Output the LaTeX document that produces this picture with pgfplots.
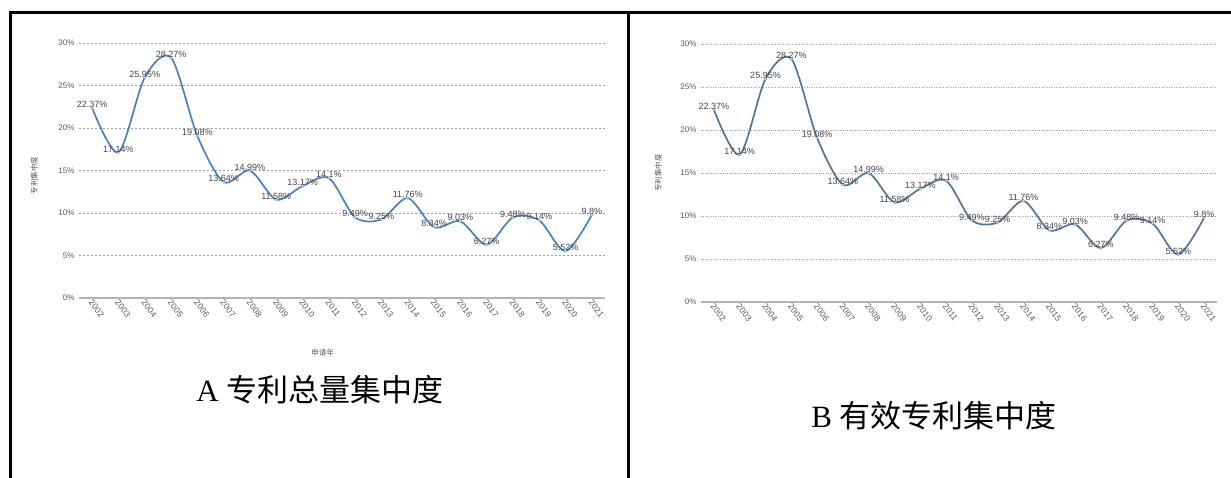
\documentclass[border=0pt]{standalone}
\usepackage{pgfplots}
\pgfplotsset{compat=1.18}
\usepackage{pgfplotstable}
\usepackage{fontspec}
\setmainfont{Liberation Serif}
\newfontfamily\cjk{Noto Sans CJK SC}
\newfontfamily\arial{Liberation Sans}
\definecolor{txtgray}{RGB}{89,89,89}
\definecolor{lblgray}{RGB}{70,70,70}
\definecolor{gridgray}{RGB}{160,160,160}
\definecolor{axgray}{RGB}{180,180,180}
\definecolor{lineA}{RGB}{74,128,190}
\definecolor{lineB}{RGB}{82,116,160}

\pgfplotstableread{
i year val
0 2002 22.37
1 2003 17.14
2 2004 25.95
3 2005 28.27
4 2006 19.08
5 2007 13.64
6 2008 14.99
7 2009 11.58
8 2010 13.17
9 2011 14.1
10 2012 9.49
11 2013 9.25
12 2014 11.76
13 2015 8.34
14 2016 9.03
15 2017 6.27
16 2018 9.48
17 2019 9.14
18 2020 5.52
19 2021 9.8
}\datatable

\pgfplotsset{
  panel/.style={
    scale only axis,
    anchor=south west,
    xmin=-0.5, xmax=19.5,
    ymin=0, ymax=30,
    xtick={0,...,19},
    xticklabels={2002,2003,2004,2005,2006,2007,2008,2009,2010,2011,2012,2013,2014,2015,2016,2017,2018,2019,2020,2021},
    ytick={0,5,...,30},
    yticklabel={\pgfmathprintnumber{\tick}\%},
    /pgf/number format/assume math mode=true,
    major tick length=0pt,
    axis x line*=bottom,
    axis y line*=left,
    y axis line style={draw=none},
    ymajorgrids,
    ticklabel style={font=\arial\fontsize{8}{9}\selectfont, text=txtgray},
    xticklabel style={rotate=-52, anchor=west, xshift=-2pt, yshift=-3pt, font=\arial\fontsize{8.5}{9}\selectfont},
    yticklabel style={xshift=-1pt},
    clip=false,
    nodes near coords={\pgfmathprintnumber[fixed,precision=2]{\pgfplotspointmeta}\%},
    point meta=explicit,
    nodes near coords style={font=\arial\fontsize{9}{10}\selectfont, text=lblgray, anchor=south, inner sep=0pt, yshift=0pt},
  },
}

\begin{document}
\begin{tikzpicture}
\useasboundingbox (0pt,0pt) rectangle (1231pt,-478pt);
\draw[line width=3pt] (9pt,-13pt) -- (1231pt,-13pt);
\draw[line width=3pt] (10.5pt,-11.5pt) -- (10.5pt,-478pt);
\draw[line width=3pt] (628pt,-11.5pt) -- (628pt,-478pt);

% Panel A
\begin{axis}[panel,
  at={(79pt,-298pt)}, width=526pt, height=255pt,
  x axis line style={draw=axgray, line width=1.2pt},
  grid style={draw=gridgray, dashed, dash pattern=on 2pt off 2pt, line width=0.6pt},
  ylabel={\cjk 专利集中度},
  ylabel style={font=\fontsize{7.5}{8}\selectfont, text=txtgray, at={(axis description cs:-0.085,0.48)}, anchor=center},
  xlabel={\cjk 申请年},
  xlabel style={font=\fontsize{7.5}{8}\selectfont, text=txtgray, at={(axis description cs:0.463,-0.216)}, anchor=center},
]
\addplot[lineA, line width=1.7pt, smooth, mark=*, mark size=1.3pt, mark options={fill=white, draw=lineA!70, line width=0.5pt}]
  table[x=i, y=val, meta=val] {\datatable};
\end{axis}

% Panel B
\begin{axis}[panel,
  at={(701pt,-302pt)}, width=516pt, height=258pt,
  x axis line style={draw=axgray, line width=2pt},
  grid style={draw=gridgray, dotted, line width=0.8pt},
  ylabel={\cjk 专利集中度},
  ylabel style={font=\fontsize{7.5}{8}\selectfont, text=txtgray, at={(axis description cs:-0.083,0.50)}, anchor=center},
]
\addplot[lineB, line width=1.7pt, smooth, mark=*, mark size=1.3pt, mark options={fill=white, draw=lineB!70, line width=0.5pt}]
  table[x=i, y=val, meta=val] {\datatable};
\end{axis}

\node[font=\fontsize{31}{36}\selectfont, inner sep=0pt] at (320pt,-390pt) {A {\cjk 专利总量集中度}};
\node[font=\fontsize{31}{36}\selectfont, inner sep=0pt] at (934pt,-416pt) {B {\cjk 有效专利集中度}};
\end{tikzpicture}
\end{document}
